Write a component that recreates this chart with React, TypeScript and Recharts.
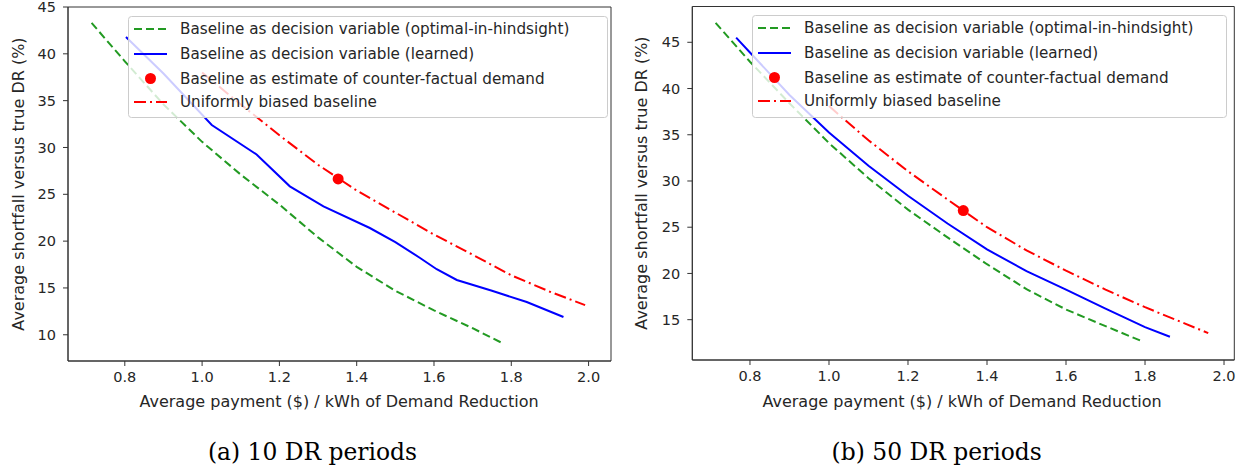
import React from "react";
import { ComposedChart, Line, Scatter, XAxis, YAxis, ReferenceArea } from "recharts";

// ---------- data ----------
const xTicks = [0.8, 1.0, 1.2, 1.4, 1.6, 1.8, 2.0];
const yTicksA = [10, 15, 20, 25, 30, 35, 40, 45];
const yTicksB = [15, 20, 25, 30, 35, 40, 45];

// (a) 10 DR periods
const optimalA: [number, number][] = [
  [0.714, 43.3], [0.8, 39.2], [0.9, 34.6], [1.0, 30.6], [1.1, 27.1], [1.2, 23.9],
  [1.3, 20.4], [1.4, 17.25], [1.5, 14.7], [1.6, 12.6], [1.7, 10.7], [1.775, 9.15],
];
const learnedA: [number, number][] = [
  [0.803, 41.8], [0.9, 37.9], [1.025, 32.4], [1.141, 29.25], [1.227, 25.85], [1.314, 23.7],
  [1.434, 21.4], [1.5, 19.9], [1.564, 18.2], [1.607, 17.0], [1.659, 15.85], [1.75, 14.7],
  [1.84, 13.5], [1.935, 11.9],
];
const biasedA: [number, number][] = [
  [1.0, 38.0], [1.1, 34.6], [1.2, 31.3], [1.3, 28.15], [1.4, 25.4], [1.5, 23.05],
  [1.6, 20.7], [1.7, 18.55], [1.8, 16.35], [1.9, 14.6], [1.991, 13.17],
];
const estimateA: [number, number][] = [[1.352, 26.64]];

// (b) 50 DR periods
const optimalB: [number, number][] = [
  [0.713, 47.1], [0.8, 42.9], [0.9, 38.4], [1.0, 34.1], [1.1, 30.3], [1.2, 26.9],
  [1.3, 23.9], [1.4, 21.0], [1.5, 18.3], [1.6, 16.1], [1.7, 14.3], [1.796, 12.6],
];
const learnedB: [number, number][] = [
  [0.765, 45.5], [0.8, 43.9], [0.9, 39.3], [1.0, 35.25], [1.1, 31.65], [1.2, 28.4],
  [1.3, 25.4], [1.4, 22.6], [1.5, 20.25], [1.6, 18.25], [1.7, 16.2], [1.8, 14.2], [1.863, 13.16],
];
const biasedB: [number, number][] = [
  [1.0, 38.1], [1.1, 34.4], [1.2, 31.05], [1.3, 28.0], [1.4, 25.0], [1.5, 22.5],
  [1.6, 20.3], [1.7, 18.25], [1.8, 16.35], [1.9, 14.6], [1.96, 13.55],
];
const estimateB: [number, number][] = [[1.34, 26.8]];

const legendLabels = [
  "Baseline as decision variable (optimal-in-hindsight)",
  "Baseline as decision variable (learned)",
  "Baseline as estimate of counter-factual demand",
  "Uniformly biased baseline",
];
const xLabel = "Average payment ($) / kWh of Demand Reduction";
const yLabel = "Average shortfall versus true DR (%)";
const captions = ["(a) 10 DR periods", "(b) 50 DR periods"];

// ---------- styles ----------
const GREEN = "#229a22";
const BLUE = "#0000ff";
const RED = "#ff0000";
const FRAME = "#333333";
const TEXT = "#262626";
const FONT = "DejaVu Sans";
const GREEN_DASH = "8 4";
const RED_DASH = "12 4 2 4";

const toPts = (arr: [number, number][]) => arr.map(([x, y]) => ({ x, y }));

type PanelProps = {
  left: number;
  top: number;
  width: number;
  height: number;
  margin: { top: number; right: number; bottom: number; left: number };
  yAxisWidth: number;
  xDomain: [number, number];
  yDomain: [number, number];
  yTicks: number[];
  optimal: [number, number][];
  learned: [number, number][];
  biased: [number, number][];
  estimate: [number, number][];
};

const tickStyle = { fontFamily: FONT, fontSize: 14.5, fill: TEXT };

function Panel(p: PanelProps) {
  return (
    <div style={{ position: "absolute", left: p.left, top: p.top }}>
      <ComposedChart width={p.width} height={p.height} margin={p.margin}>
        <XAxis
          type="number"
          dataKey="x"
          domain={p.xDomain}
          ticks={xTicks}
          allowDataOverflow
          tickFormatter={(v: number) => v.toFixed(1)}
          height={40}
          tickSize={5}
          tickMargin={6}
          axisLine={{ stroke: FRAME }}
          tickLine={{ stroke: FRAME }}
          tick={tickStyle}
          interval={0}
        />
        <YAxis
          type="number"
          dataKey="y"
          domain={p.yDomain}
          ticks={p.yTicks}
          allowDataOverflow
          width={p.yAxisWidth}
          tickSize={5}
          tickMargin={7}
          axisLine={{ stroke: FRAME }}
          tickLine={{ stroke: FRAME }}
          tick={tickStyle}
          interval={0}
        />
        <ReferenceArea
          x1={p.xDomain[0]}
          x2={p.xDomain[1]}
          y1={p.yDomain[0]}
          y2={p.yDomain[1]}
          fill="none"
          stroke={FRAME}
          strokeWidth={1}
          ifOverflow="visible"
        />
        <Line
          data={toPts(p.optimal)}
          dataKey="y"
          type="linear"
          stroke={GREEN}
          strokeWidth={2}
          strokeDasharray={GREEN_DASH}
          dot={false}
          activeDot={false}
          isAnimationActive={false}
        />
        <Line
          data={toPts(p.learned)}
          dataKey="y"
          type="linear"
          stroke={BLUE}
          strokeWidth={2}
          dot={false}
          activeDot={false}
          isAnimationActive={false}
        />
        <Line
          data={toPts(p.biased)}
          dataKey="y"
          type="linear"
          stroke={RED}
          strokeWidth={2}
          strokeDasharray={RED_DASH}
          dot={false}
          activeDot={false}
          isAnimationActive={false}
        />
        <Scatter
          data={toPts(p.estimate)}
          dataKey="y"
          fill={RED}
          isAnimationActive={false}
          shape={(s: any) => <circle cx={s.cx} cy={s.cy} r={5.5} fill={RED} />}
        />
      </ComposedChart>
    </div>
  );
}

function LegendBox({ x, y, w, h }: { x: number; y: number; w: number; h: number }) {
  const rows = [y + 13, y + 38, y + 62.5, y + 86];
  const hx1 = x + 6;
  const hx2 = x + 39;
  const tx = x + 52;
  return (
    <g>
      <rect x={x + 0.5} y={y + 0.5} width={w} height={h} rx={3} fill="#ffffff" fillOpacity={0.8} stroke="#cccccc" />
      <line x1={hx1} x2={hx2} y1={rows[0]} y2={rows[0]} stroke={GREEN} strokeWidth={2} strokeDasharray={GREEN_DASH} />
      <line x1={hx1} x2={hx2} y1={rows[1]} y2={rows[1]} stroke={BLUE} strokeWidth={2} />
      <circle cx={(hx1 + hx2) / 2} cy={rows[2]} r={5.5} fill={RED} />
      <line x1={hx1} x2={hx2} y1={rows[3]} y2={rows[3]} stroke={RED} strokeWidth={2} strokeDasharray={RED_DASH} />
      {legendLabels.map((t, i) => (
        <text key={i} x={tx} y={rows[i]} dy="0.35em" fontFamily={FONT} fontSize={15.2} fill={TEXT}>
          {t}
        </text>
      ))}
    </g>
  );
}

export default function App() {
  return (
    <div style={{ position: "absolute", left: 0, top: 0, width: 1247, height: 469, background: "#fff" }}>
      <Panel
        left={0}
        top={0}
        width={620}
        height={401}
        margin={{ top: 7, right: 9, bottom: 0, left: 0 }}
        yAxisWidth={68}
        xDomain={[0.653, 2.058]}
        yDomain={[7.2, 45]}
        yTicks={yTicksA}
        optimal={optimalA}
        learned={learnedA}
        biased={biasedA}
        estimate={estimateA}
      />
      <Panel
        left={625}
        top={0}
        width={620}
        height={400}
        margin={{ top: 6.5, right: 10.7, bottom: 0, left: 0 }}
        yAxisWidth={67.3}
        xDomain={[0.654, 2.026]}
        yDomain={[10.64, 48.87]}
        yTicks={yTicksB}
        optimal={optimalB}
        learned={learnedB}
        biased={biasedB}
        estimate={estimateB}
      />
      <svg width={1247} height={469} style={{ position: "absolute", left: 0, top: 0, pointerEvents: "none" }}>
        <LegendBox x={128} y={16} w={479} h={101} />
        <LegendBox x={752} y={15} w={474} h={102} />
        <text x={339} y={407} textAnchor="middle" fontFamily={FONT} fontSize={16} fill={TEXT}>{xLabel}</text>
        <text x={962} y={407} textAnchor="middle" fontFamily={FONT} fontSize={16} fill={TEXT}>{xLabel}</text>
        <text transform="translate(24,184) rotate(-90)" textAnchor="middle" fontFamily={FONT} fontSize={16} fill={TEXT}>{yLabel}</text>
        <text transform="translate(647,183) rotate(-90)" textAnchor="middle" fontFamily={FONT} fontSize={16} fill={TEXT}>{yLabel}</text>
        <text x={312.5} y={460} textAnchor="middle" fontFamily="DejaVu Serif" fontSize={23.4} fill="#000">{captions[0]}</text>
        <text x={936.7} y={460} textAnchor="middle" fontFamily="DejaVu Serif" fontSize={23.4} fill="#000">{captions[1]}</text>
      </svg>
    </div>
  );
}
